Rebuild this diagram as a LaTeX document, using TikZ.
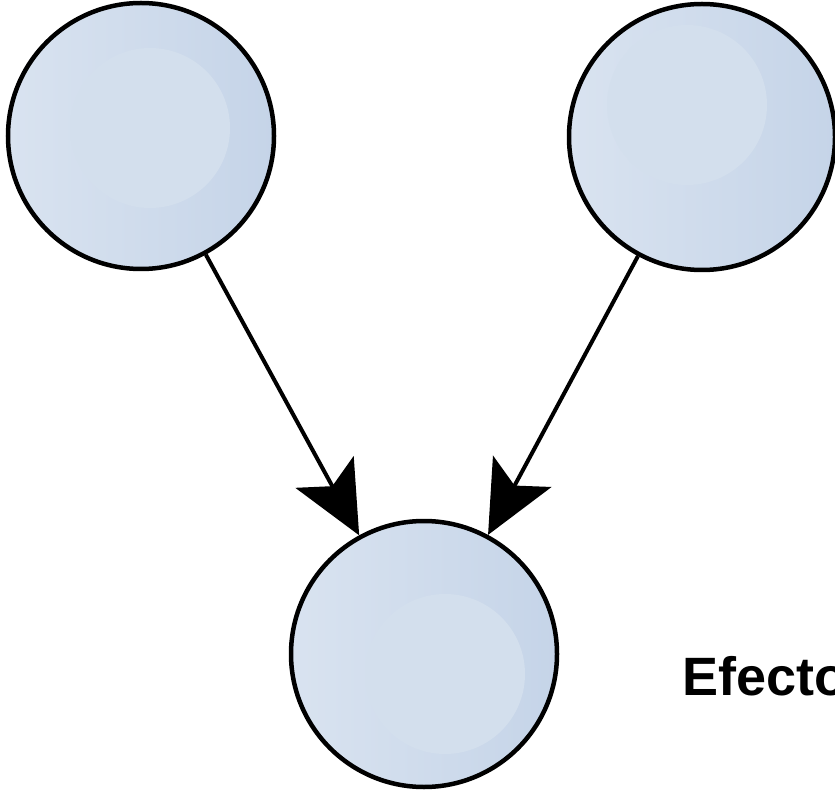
\documentclass[tikz,border=0pt]{standalone}
\usepackage{fontspec}
\setmainfont{Liberation Sans}
\usepackage{xcolor}
\usetikzlibrary{arrows.meta}

\definecolor{ballleft}{HTML}{D9E3F0}
\definecolor{ballright}{HTML}{C5D4E8}
\definecolor{ballhi}{HTML}{D3DFED}

\begin{document}
\begin{tikzpicture}[
  x=1pt, y=-1pt,
  ball/.style={circle, draw, line width=4.5pt, minimum size=266pt,
    left color=ballleft, right color=ballright,
    path picture={\fill[ballhi] ([shift={(#1)}]path picture bounding box.center) circle (80pt);}},
  >={Stealth[length=72pt, width=66pt, inset=16pt]}
]
  \useasboundingbox (0,0) rectangle (835,791);
  \node[ball={9pt,8pt}] (causeA) at (141,136) {};
  \node[ball={-15pt,32pt}] (causeB) at (702,137) {};
  \node[ball={21pt,-20pt}] (effect) at (424,654) {};
  \node[font=\bfseries\fontsize{54}{60}\selectfont, anchor=base west, inner sep=0pt] (label) at (682,695) {Efecto};
  \draw[->, line width=4pt] (causeA) -- (effect);
  \draw[->, line width=4pt] (causeB) -- (effect);
\end{tikzpicture}
\end{document}
